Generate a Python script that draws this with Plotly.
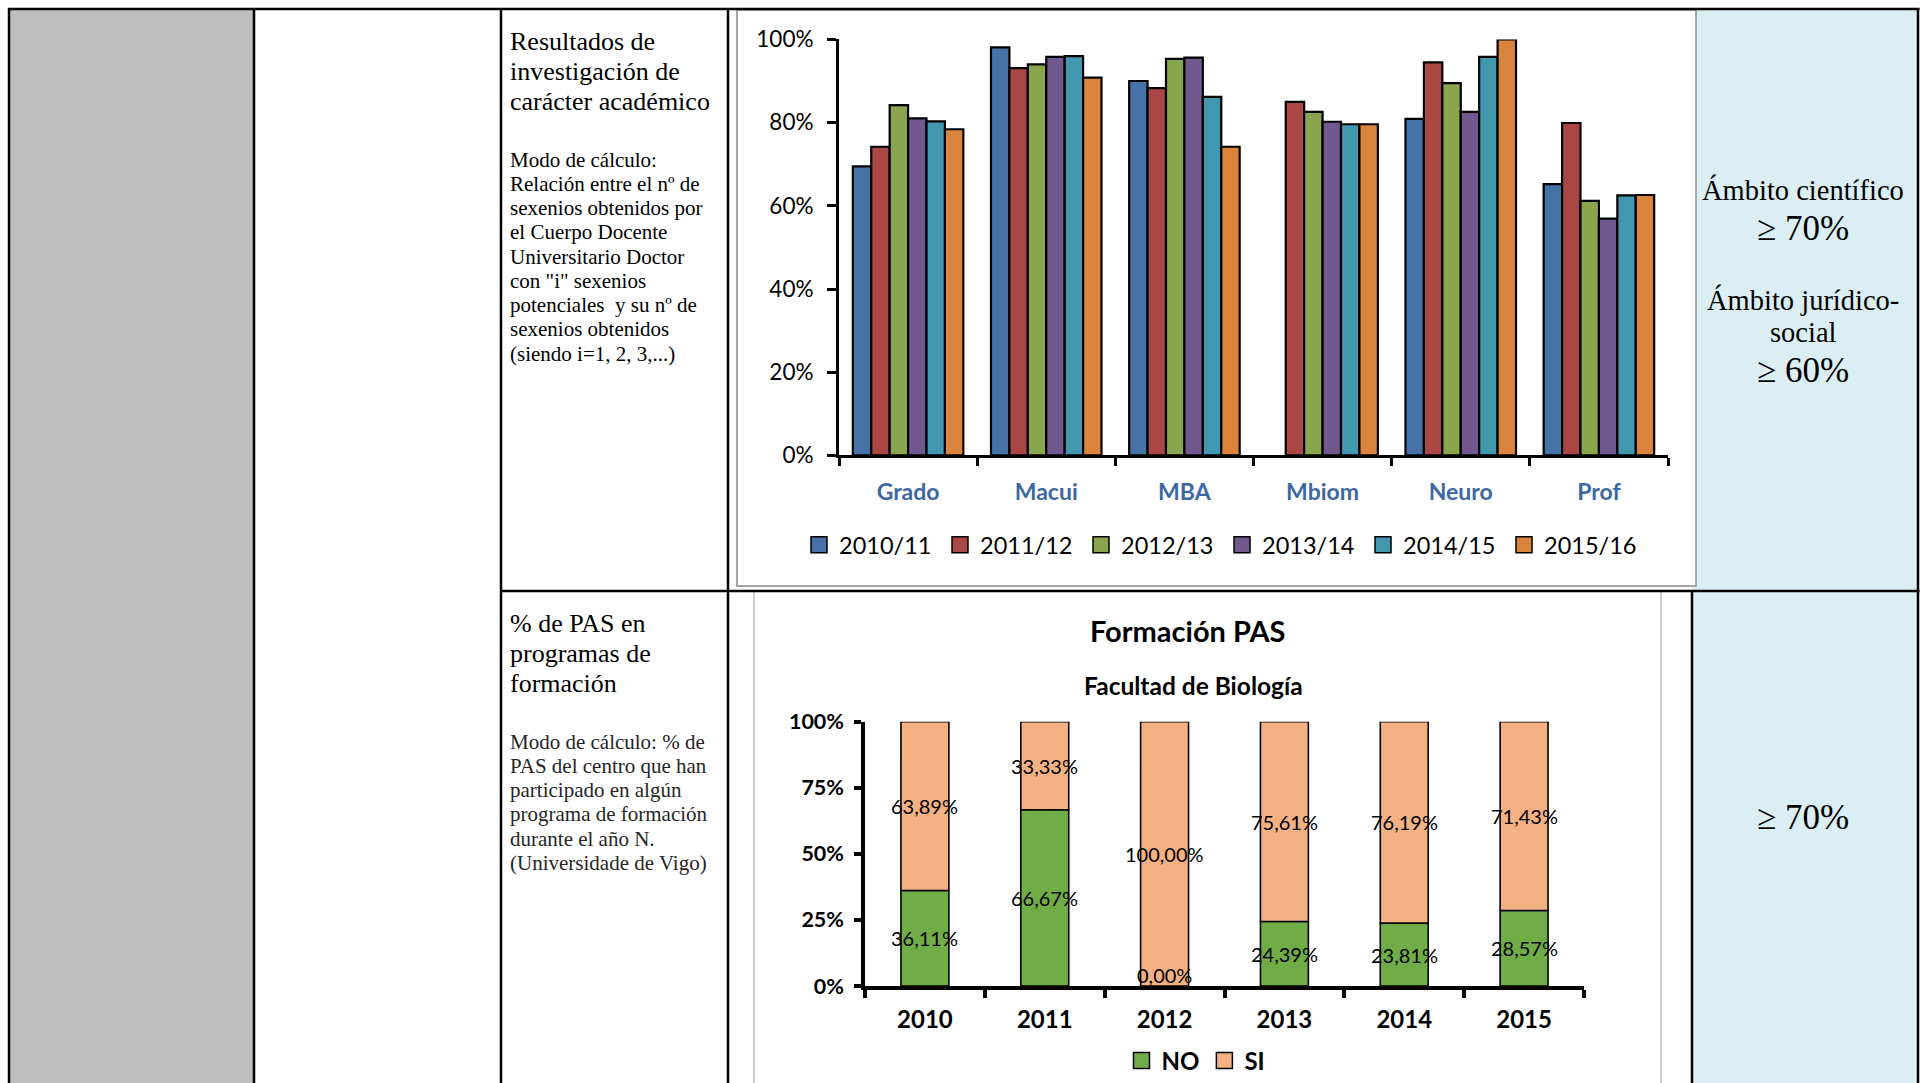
import plotly.graph_objects as go

W, H = 1925, 1083

# ---------------- data ----------------
programs = ["Grado", "Macui", "MBA", "Mbiom", "Neuro", "Prof"]
series_names = ["2010/11", "2011/12", "2012/13", "2013/14", "2014/15", "2015/16"]
s2010_11 = [0.695, 0.981, 0.900, None, 0.809, 0.652]
s2011_12 = [0.742, 0.931, 0.883, 0.850, 0.945, 0.799]
s2012_13 = [0.842, 0.940, 0.953, 0.826, 0.895, 0.612]
s2013_14 = [0.810, 0.958, 0.956, 0.802, 0.826, 0.569]
s2014_15 = [0.803, 0.960, 0.862, 0.796, 0.958, 0.625]
s2015_16 = [0.784, 0.908, 0.742, 0.796, 1.000, 0.626]
series_values = [s2010_11, s2011_12, s2012_13, s2013_14, s2014_15, s2015_16]
series_colors = ["#4572A7", "#AA4643", "#89A54E", "#71588F", "#4198AF", "#DB843D"]
y1_ticks = [0, 0.2, 0.4, 0.6, 0.8, 1.0]

years = ["2010", "2011", "2012", "2013", "2014", "2015"]
pas_no = [36.11, 66.67, 0.00, 24.39, 23.81, 28.57]
pas_si = [63.89, 33.33, 100.00, 75.61, 76.19, 71.43]
pas_names = ["NO", "SI"]
pas_colors = ["#70AD47", "#F4B183"]
y2_ticks = [0, 0.25, 0.5, 0.75, 1.0]

top_title_lines = ["Resultados de", "investigación de", "carácter académico"]
top_body_lines = ["Modo de cálculo:", "Relación entre el nº de", "sexenios obtenidos por",
                  "el Cuerpo Docente", "Universitario Doctor", "con \"i\" sexenios",
                  "potenciales  y su nº de", "sexenios obtenidos", "(siendo i=1, 2, 3,...)"]
bot_title_lines = ["% de PAS en", "programas de", "formación"]
bot_body_lines = ["Modo de cálculo: % de", "PAS del centro que han", "participado en algún",
                  "programa de formación", "durante el año N.", "(Universidade de Vigo)"]


def px(x):
    return x / W


def py(y):
    return 1 - y / H


SANS = "Lato"
SERIF = "Liberation Serif"

fig = go.Figure()

# ---------------- top chart ----------------
for name, vals, col in zip(series_names, series_values, series_colors):
    fig.add_trace(go.Bar(
        x=programs, y=vals, name=name, xaxis="x", yaxis="y",
        marker=dict(color=col, line=dict(color="black", width=2.2)),
        showlegend=False, hoverinfo="skip"))
# legend swatches (larger squares, like the original legend)
for name, col in zip(series_names, series_colors):
    fig.add_trace(go.Scatter(
        x=[None], y=[None], mode="markers", name=name, xaxis="x", yaxis="y",
        marker=dict(symbol="square", size=16, color=col, line=dict(color="black", width=1.5)),
        legend="legend", hoverinfo="skip"))

# ---------------- bottom chart ----------------
no_frac = [v / 100 for v in pas_no]
si_frac = [v / 100 for v in pas_si]
fig.add_trace(go.Bar(
    x=years, y=no_frac, name="NO", xaxis="x2", yaxis="y2",
    width=0.4, offset=-0.2,
    marker=dict(color=pas_colors[0], line=dict(color="black", width=1.6)),
    showlegend=False, hoverinfo="skip"))
fig.add_trace(go.Bar(
    x=years, y=si_frac, base=no_frac, name="SI", xaxis="x2", yaxis="y2",
    width=0.4, offset=-0.2,
    marker=dict(color=pas_colors[1], line=dict(color="black", width=1.6)),
    showlegend=False, hoverinfo="skip"))
for name, col in zip(pas_names, pas_colors):
    fig.add_trace(go.Scatter(
        x=[None], y=[None], mode="markers", name=name, xaxis="x2", yaxis="y2",
        marker=dict(symbol="square", size=16, color=col, line=dict(color="black", width=1.5)),
        legend="legend2", hoverinfo="skip"))

annotations = []


def fmt(v):
    return ("%.2f" % v).replace(".", ",") + "%"


for i, (n, s) in enumerate(zip(pas_no, pas_si)):
    annotations.append(dict(x=i, y=n / 200, xref="x2", yref="y2", text=fmt(n),
                            showarrow=False, font=dict(family=SANS, size=20, color="black"),
                            yshift=11 if n == 0 else 0))
    annotations.append(dict(x=i, y=(n + s / 2) / 100, xref="x2", yref="y2", text=fmt(s),
                            showarrow=False, font=dict(family=SANS, size=20, color="black")))

annotations.append(dict(x=px(1188), y=py(630), xref="paper", yref="paper",
                        text="Formación PAS", showarrow=False,
                        font=dict(family=SANS, size=29, color="black", weight="bold")))
annotations.append(dict(x=px(1193), y=py(686), xref="paper", yref="paper",
                        text="Facultad de Biología", showarrow=False,
                        font=dict(family=SANS, size=24.5, color="black", weight="bold")))


def add_lines(lines, x, y0, dy, size, color, anchor="left"):
    for i, t in enumerate(lines):
        annotations.append(dict(x=px(x), y=py(y0 + i * dy), xref="paper", yref="paper",
                                text=t, showarrow=False, xanchor=anchor, yanchor="middle",
                                font=dict(family=SERIF, size=size, color=color)))


add_lines(top_title_lines, 508, 41.7, 30.1, 26, "black")
add_lines(top_body_lines, 508, 159.6, 24.25, 21, "black")
add_lines(bot_title_lines, 508, 623.7, 30.0, 26, "black")
add_lines(bot_body_lines, 508, 741.5, 24.3, 21, "#262626")

add_lines(["Ámbito científico"], 1803, 190, 0, 28.5, "black", "center")
add_lines(["≥ 70%"], 1803, 228, 0, 35, "black", "center")
add_lines(["Ámbito jurídico-", "social"], 1803, 299.6, 33.1, 28.5, "black", "center")
add_lines(["≥ 60%"], 1803, 370.8, 0, 35, "black", "center")
add_lines(["≥ 70%"], 1803, 817.6, 0, 35, "black", "center")

# ---------------- table shapes ----------------
shapes = []


def rect(x0, y0, x1, y1, fill, line_color=None, lw=0):
    shapes.append(dict(type="rect", xref="paper", yref="paper", layer="below",
                       x0=px(x0), x1=px(x1), y0=py(y0), y1=py(y1), fillcolor=fill,
                       line=dict(color=line_color or "rgba(0,0,0,0)", width=lw)))


def line(x0, y0, x1, y1, lw=2.5, color="black"):
    shapes.append(dict(type="line", xref="paper", yref="paper", layer="below",
                       x0=px(x0), x1=px(x1), y0=py(y0), y1=py(y1),
                       line=dict(color=color, width=lw)))


rect(9, 9, 254, 1090, "#BFBFBF")
rect(1692, 9, 1918, 591, "#DAEEF3")
rect(1692, 591, 1918, 1090, "#DAEEF3")
rect(737, 10, 1696, 586, "white", "#A6A6A6", 2)
rect(754, 591, 1661, 1100, "white", "#BFBFBF", 1.5)

line(8, 9, 1919.5, 9)
line(9, 8, 9, 1090)
line(254, 9, 254, 1090)
line(501, 9, 501, 1090)
line(728, 9, 728, 1090)
line(1692, 591, 1692, 1090)
line(1918, 8, 1918, 1090)
line(501, 591, 1919.5, 591)

fig.update_layout(
    width=W, height=H, margin=dict(l=0, r=0, t=0, b=0, autoexpand=False),
    paper_bgcolor="white", plot_bgcolor="rgba(0,0,0,0)",
    barmode="group", bargap=0.2, bargroupgap=0,
    showlegend=True,
    xaxis=dict(domain=[px(839), px(1668)], anchor="y", type="category", range=[-0.5, 5.5],
               autorange=False, automargin=False,
               showline=True, linecolor="black", linewidth=3,
               ticks="outside", tickson="boundaries", ticklen=8, tickwidth=3, tickcolor="black",
               tickfont=dict(family=SANS, size=23, color="#3D67A3", weight="bold"),
               showgrid=False, zeroline=False, fixedrange=True, ticklabelstandoff=14),
    yaxis=dict(domain=[py(455.4), py(39.4)], anchor="x", range=[0, 1], autorange=False,
               automargin=False, tickvals=y1_ticks, tickformat=".0%",
               showline=True, linecolor="black", linewidth=3,
               ticks="outside", ticklen=9, tickwidth=3, tickcolor="black",
               tickfont=dict(family=SANS, size=22.5, color="black"),
               showgrid=False, zeroline=False, fixedrange=True, ticklabelstandoff=9),
    xaxis2=dict(domain=[px(865), px(1584)], anchor="y2", type="category", range=[-0.5, 5.5],
                autorange=False, automargin=False,
                showline=True, linecolor="black", linewidth=3.5,
                ticks="outside", tickson="boundaries", ticklen=8, tickwidth=3.5, tickcolor="black",
                tickfont=dict(family=SANS, size=24, color="black", weight="bold"),
                showgrid=False, zeroline=False, fixedrange=True, ticklabelstandoff=9),
    yaxis2=dict(domain=[py(986), py(721.7)], anchor="x2", range=[0, 1], autorange=False,
                automargin=False, tickvals=y2_ticks, tickformat=".0%",
                showline=True, linecolor="black", linewidth=3.5,
                ticks="outside", ticklen=7, tickwidth=3.5, tickcolor="black",
                tickfont=dict(family=SANS, size=21.5, color="black", weight="bold"),
                showgrid=False, zeroline=False, fixedrange=True, ticklabelstandoff=6),
    legend=dict(orientation="h", x=px(1222), xanchor="center", y=py(545), yanchor="middle",
                font=dict(family=SANS, size=23.5, color="black"), bgcolor="rgba(0,0,0,0)",
                traceorder="normal", itemclick=False, itemdoubleclick=False,
                entrywidth=96, entrywidthmode="pixels"),
    legend2=dict(orientation="h", x=px(1196), xanchor="center", y=py(1061), yanchor="middle",
                 font=dict(family=SANS, size=24, color="black", weight="bold"),
                 bgcolor="rgba(0,0,0,0)", traceorder="normal",
                 itemclick=False, itemdoubleclick=False),
    shapes=shapes,
    annotations=annotations,
)

fig.write_html("out.html", config={"displayModeBar": False},
               post_script="document.body.style.margin='0';document.body.style.overflow='hidden';")
